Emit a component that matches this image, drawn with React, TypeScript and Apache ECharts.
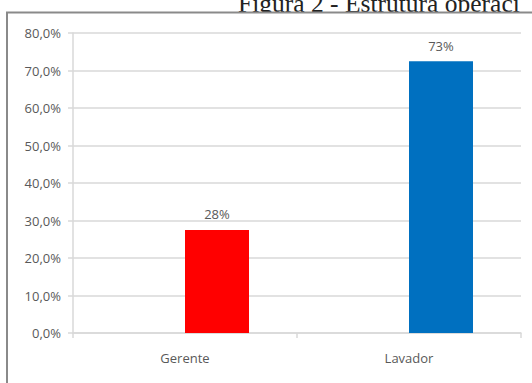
import React, { useEffect, useRef } from "react";
import * as echarts from "echarts";

const categories = ["Gerente", "Lavador"];
const shares = [27.5, 72.5];
const barColors = ["#ff0000", "#0070c0"];
const yMin = 0;
const yMax = 80;
const yStep = 10;
const titleText = "Figura 2 - Estrutura operacional";

export default function App() {
  const ref = useRef<HTMLDivElement>(null);
  useEffect(() => {
    if (!ref.current) return;
    const chart = echarts.init(ref.current, null, { renderer: "svg" });
    const labelFont = "'Open Sans', 'Liberation Sans', sans-serif";
    chart.setOption({
      animation: false,
      title: {
        text: titleText,
        left: 238,
        top: -10,
        padding: 0,
        z: -20,
        textStyle: {
          fontFamily: "'Liberation Serif', serif",
          fontSize: 25.5,
          fontWeight: "normal",
          color: "#222222",
          width: 294,
          overflow: "truncate",
          ellipsis: "",
        },
      },
      graphic: [
        {
          type: "rect",
          z: -10,
          shape: { x: 7, y: 12.5, width: 525, height: 370.5 },
          style: { fill: "#ffffff", lineWidth: 0 },
        },
        {
          type: "polyline",
          z: -5,
          shape: { points: [[7, 383], [7, 12.5], [532, 12.5]] },
          style: { stroke: "#8a8a8a", lineWidth: 2, fill: "none" },
        },
      ],
      grid: { left: 73, right: 11, top: 33, bottom: 50, containLabel: false },
      xAxis: {
        type: "category",
        data: categories,
        boundaryGap: true,
        axisLine: { show: true, lineStyle: { color: "#d9d9d9", width: 1.5 } },
        axisTick: { show: true, length: 5, lineStyle: { color: "#d9d9d9", width: 1.5 } },
        axisLabel: { color: "#595959", fontSize: 13, fontFamily: labelFont, margin: 18 },
        splitLine: { show: false },
      },
      yAxis: {
        type: "value",
        min: yMin,
        max: yMax,
        interval: yStep,
        axisLine: { show: true, lineStyle: { color: "#d9d9d9", width: 1.5 } },
        axisTick: { show: true, length: 5, lineStyle: { color: "#d9d9d9", width: 1.5 } },
        splitLine: { show: true, lineStyle: { color: "#d9d9d9", width: 1.5 } },
        axisLabel: {
          color: "#595959",
          fontSize: 13,
          fontFamily: labelFont,
          margin: 12,
          formatter: (v: number) => v.toFixed(1).replace(".", ",") + "%",
        },
      },
      series: [
        {
          type: "bar",
          name: "placeholder",
          data: categories.map(() => "-"),
          barWidth: 64,
          barGap: "0%",
          silent: true,
          itemStyle: { color: "transparent" },
        },
        {
          type: "bar",
          name: "Participação",
          data: shares.map((v, i) => ({ value: v, itemStyle: { color: barColors[i] } })),
          barWidth: 64,
          barGap: "0%",
          label: {
            show: true,
            position: "top",
            distance: 9,
            color: "#595959",
            fontSize: 13,
            fontFamily: labelFont,
            formatter: (p: any) => Math.round(p.value) + "%",
          },
        },
      ],
    });
    return () => chart.dispose();
  }, []);
  return (
    <div
      ref={ref}
      style={{ position: "fixed", left: 0, top: 0, width: 532, height: 383, overflow: "hidden", background: "#ffffff" }}
    />
  );
}
